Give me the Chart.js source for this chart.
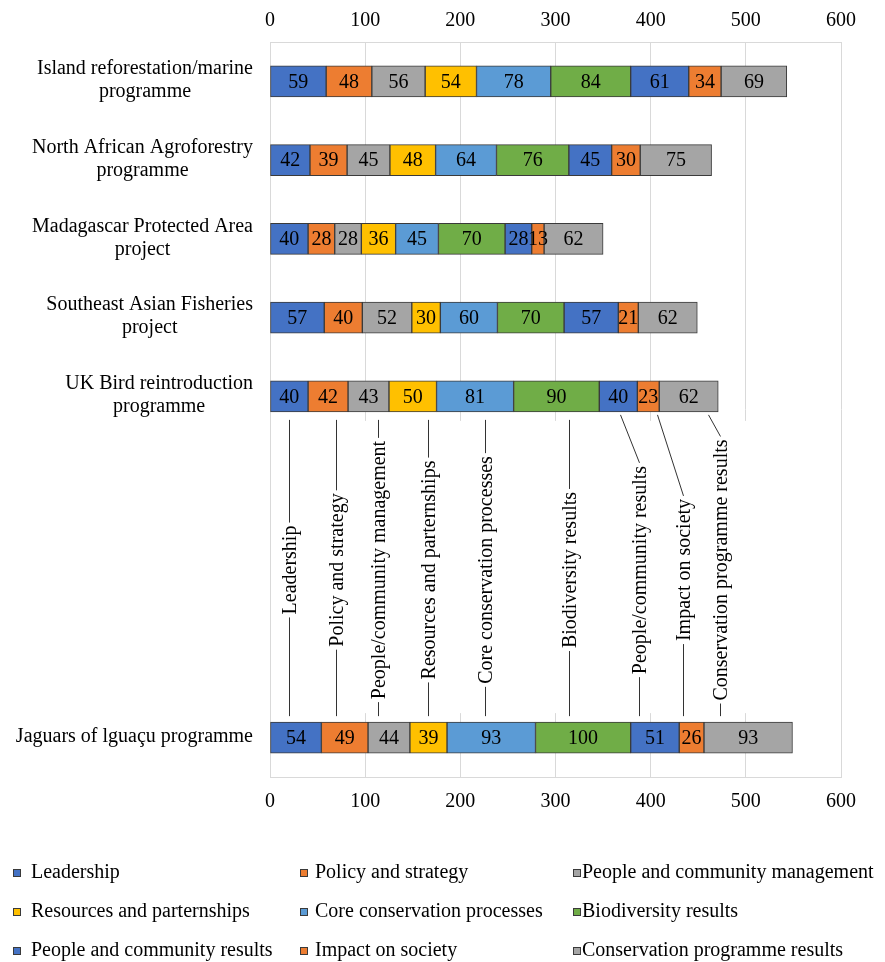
<!DOCTYPE html>
<html>
<head>
<meta charset="utf-8">
<style>
html,body{margin:0;padding:0;background:#fff;}
#wrap{width:885px;height:962px;position:relative;}
</style>
<script src="https://cdn.jsdelivr.net/npm/chart.js@4.4.1/dist/chart.umd.min.js"></script>
</head>
<body>
<div id="wrap"><canvas id="c" width="885" height="962"></canvas></div>
<script>
// ---------- data ----------
const categories = [
  ['Island reforestation/marine', 'programme'],
  ['North African Agroforestry', 'programme'],
  ['Madagascar Protected Area', 'project'],
  ['Southeast Asian Fisheries', 'project'],
  ['UK Bird reintroduction', 'programme'],
  ['Jaguars of lguaçu programme']
];
const seriesNames = [
  'Leadership', 'Policy and strategy', 'People and community management',
  'Resources and parternships', 'Core conservation processes', 'Biodiversity results',
  'People and community results', 'Impact on society', 'Conservation programme results'
];
const leadership             = [59, 42, 40, 57, 40, 54];
const policyStrategy         = [48, 39, 28, 40, 42, 49];
const peopleCommunityMgmt    = [56, 45, 28, 52, 43, 44];
const resourcesPartnerships  = [54, 48, 36, 30, 50, 39];
const coreProcesses          = [78, 64, 45, 60, 81, 93];
const biodiversityResults    = [84, 76, 70, 70, 90, 100];
const peopleCommunityResults = [61, 45, 28, 57, 40, 51];
const impactOnSociety        = [34, 30, 13, 21, 23, 26];
const programmeResults       = [69, 75, 62, 62, 62, 93];
const annotationLabels = [
  'Leadership', 'Policy and strategy', 'People/community management',
  'Resources and parternships', 'Core conservation processes', 'Biodiversity results',
  'People/community results', 'Impact on society', 'Conservation programme results'
];
const xTickMin = 0, xTickMax = 600, xTickStep = 100;

// ---------- styling / layout ----------
const FONT = "'Liberation Serif','Times New Roman',serif";
const colors = ['#4472C4','#ED7D31','#A5A5A5','#FFC000','#5B9BD5','#70AD47','#4472C4','#ED7D31','#A5A5A5'];
const seriesValues = [leadership, policyStrategy, peopleCommunityMgmt, resourcesPartnerships,
  coreProcesses, biodiversityResults, peopleCommunityResults, impactOnSociety, programmeResults];

const SLOT_COUNT = 28;
const slotOf = [1, 4, 7, 10, 13, 26];          // row slot of each category
const ANNOT_ROW = 4;                            // UK row carries the callouts
const LAST_ROW = 5;
const slotLabels = Array.from({length: SLOT_COUNT}, (_, s) => {
  const i = slotOf.indexOf(s);
  return i >= 0 ? categories[i].join(' ') : '';
});

const datasets = seriesNames.map((name, k) => ({
  label: name,
  data: Array.from({length: SLOT_COUNT}, (_, s) => {
    const i = slotOf.indexOf(s);
    return i >= 0 ? seriesValues[k][i] : null;
  }),
  backgroundColor: colors[k],
  borderColor: '#3a3a3a',
  borderWidth: 1,
  borderSkipped: false,
  barThickness: 31,
  xAxisID: 'x',
  yAxisID: 'y'
}));

// callout offsets (px) relative to segment centre
const annStartDx = [0, 8, 10, 15, 10, 13, 2, 9, 19];
const annLabelDx = [0, 8, 10, 15, 10, 13, 21, 35, 31];

const legCols = [{m: 13, t: 31}, {m: 300, t: 315}, {m: 573, t: 582}];
const legRows = [872, 911, 950];

const decor = {
  id: 'decor',
  beforeDatasetsDraw(chart) {
    const {ctx} = chart;
    const xs = chart.scales.x;
    const uk = chart.getDatasetMeta(0).data[slotOf[ANNOT_ROW]];
    const jg = chart.getDatasetMeta(0).data[slotOf[LAST_ROW]];
    const top = uk.y + uk.height / 2 + 9;
    const bot = jg.y - jg.height / 2 - 9;
    const l = Math.round(xs.getPixelForValue(xTickMin)) + 1;
    const r = Math.round(xs.getPixelForValue(xTickMax));
    ctx.save();
    ctx.fillStyle = '#fff';
    ctx.fillRect(l, top, r - l, bot - top);
    ctx.restore();
  },
  afterDatasetsDraw(chart) {
    const {ctx} = chart;
    ctx.save();
    ctx.font = '20px ' + FONT;
    ctx.fillStyle = '#000';
    ctx.textAlign = 'center';
    ctx.textBaseline = 'middle';
    // value labels
    chart.data.datasets.forEach((ds, k) => {
      const meta = chart.getDatasetMeta(k);
      meta.data.forEach((el, idx) => {
        const v = ds.data[idx];
        if (v === null || v === undefined) return;
        ctx.fillText(String(v), (el.x + el.base) / 2, el.y + 1);
      });
    });
    // callouts
    ctx.strokeStyle = '#333';
    ctx.lineWidth = 1;
    annotationLabels.forEach((txt, k) => {
      const el = chart.getDatasetMeta(k).data[slotOf[ANNOT_ROW]];
      const jg = chart.getDatasetMeta(k).data[slotOf[LAST_ROW]];
      const ax = (el.x + el.base) / 2;
      const barBottom = el.y + el.height / 2;
      const jTop = jg.y - jg.height / 2;
      const lx = Math.round(ax + annLabelDx[k]) + 0.5;
      const sx = Math.round(ax + annStartDx[k]) + 0.5;
      const cy = (barBottom + jTop) / 2 + 3;
      const w = ctx.measureText(txt).width;
      const y0 = k < 6 ? barBottom + 8 : barBottom + 3;
      ctx.beginPath();
      ctx.moveTo(sx, y0);
      ctx.lineTo(lx, cy - w / 2 - 3);
      ctx.moveTo(lx, cy + w / 2 + 3);
      ctx.lineTo(lx, jTop - 6);
      ctx.stroke();
      ctx.save();
      ctx.translate(lx, cy);
      ctx.rotate(-Math.PI / 2);
      ctx.fillText(txt, 0, 1);
      ctx.restore();
    });
    ctx.restore();
  },
  afterDraw(chart) {
    const {ctx} = chart;
    const ys = chart.scales.y;
    ctx.save();
    ctx.font = '20px ' + FONT;
    ctx.fillStyle = '#000';
    ctx.textBaseline = 'middle';
    ctx.textAlign = 'center';
    categories.forEach((lines, i) => {
      const cy = ys.getPixelForValue(slotOf[i]);
      const bw = Math.max(...lines.map(t => ctx.measureText(t).width));
      const cx = ys.right - 17 - bw / 2;
      lines.forEach((t, j) => {
        ctx.fillText(t, cx, cy + (j - (lines.length - 1) / 2) * 23 - 1);
      });
    });
    // legend
    ctx.textAlign = 'left';
    seriesNames.forEach((name, k) => {
      const c = legCols[k % 3];
      const r = legRows[Math.floor(k / 3)];
      ctx.fillStyle = colors[k];
      ctx.fillRect(c.m, r - 3, 8, 8);
      ctx.strokeStyle = '#3a3a3a';
      ctx.lineWidth = 1;
      ctx.strokeRect(c.m + 0.5, r - 2.5, 7, 7);
      ctx.fillStyle = '#000';
      ctx.fillText(name, c.t, r + 1);
    });
    ctx.restore();
  }
};

const tickFont = {family: FONT, size: 20};

new Chart(document.getElementById('c'), {
  type: 'bar',
  data: {labels: slotLabels, datasets},
  options: {
    indexAxis: 'y',
    responsive: false,
    animation: false,
    layout: {padding: {left: 0, right: 44, top: 0, bottom: 0}},
    plugins: {legend: {display: false}, tooltip: {enabled: false}},
    scales: {
      x: {
        type: 'linear', position: 'bottom', stacked: true,
        min: xTickMin, max: xTickMax,
        ticks: {stepSize: xTickStep, color: '#000', font: tickFont, padding: 13},
        grid: {color: '#d9d9d9', lineWidth: 1, drawTicks: false},
        border: {display: true, color: '#d9d9d9'},
        afterFit(s) { s.height = 962 - 777; }
      },
      x2: {
        type: 'linear', position: 'top',
        min: xTickMin, max: xTickMax,
        ticks: {stepSize: xTickStep, color: '#000', font: tickFont, padding: 9},
        grid: {display: false, drawTicks: false},
        border: {display: true, color: '#d9d9d9'},
        afterFit(s) { s.height = 42; }
      },
      y: {
        type: 'category', stacked: true, offset: true,
        ticks: {display: false},
        grid: {display: false, drawTicks: false},
        border: {display: true, color: '#d9d9d9'},
        afterFit(s) { s.width = 270; }
      }
    }
  },
  plugins: [decor]
});
</script>
</body>
</html>
